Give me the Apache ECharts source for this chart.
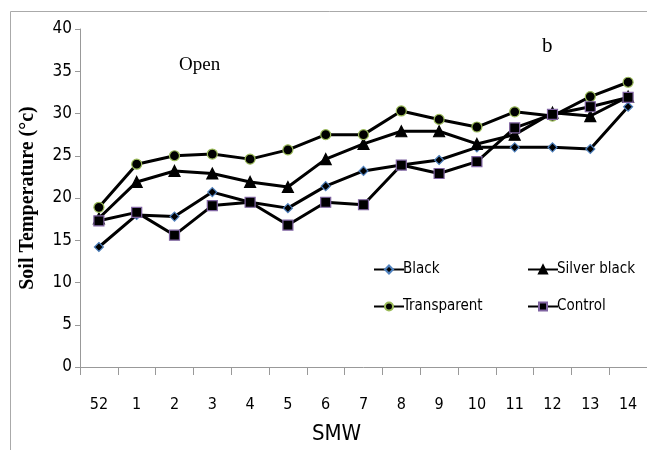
<!DOCTYPE html>
<html>
<head>
<meta charset="utf-8">
<script src="https://cdn.jsdelivr.net/npm/echarts@6/dist/echarts.min.js"></script>
<style>
  html, body { margin: 0; padding: 0; background: #fff; }
  #chart { width: 647px; height: 450px; }
</style>
</head>
<body>
<div id="chart"></div>
<script>
// semanas (SMW)
const weeks = ['52', '1', '2', '3', '4', '5', '6', '7', '8', '9', '10', '11', '12', '13', '14'];

const black       = [14.2, 18.0, 17.8, 20.7, 19.5, 18.8, 21.4, 23.2, 23.9, 24.5, 26.0, 26.0, 26.0, 25.8, 30.8];
const silverBlack = [17.6, 21.9, 23.2, 22.9, 21.9, 21.3, 24.6, 26.4, 27.9, 27.9, 26.4, 27.5, 30.1, 29.7, 32.0];
const transparent = [18.9, 24.0, 25.0, 25.2, 24.6, 25.7, 27.5, 27.5, 30.3, 29.3, 28.4, 30.2, 29.7, 32.0, 33.7];
const control     = [17.3, 18.3, 15.6, 19.1, 19.5, 16.8, 19.5, 19.2, 23.9, 22.9, 24.3, 28.3, 29.9, 30.8, 31.9];

const narrow = '"DejaVu Sans Condensed", "Liberation Sans Narrow", sans-serif';

const chart = echarts.init(document.getElementById('chart'));

// cada série: linha preta grossa, marcador com borda colorida
const mkSeries = (name, data, symbol, size, border) => ({
  name: name,
  type: 'line',
  data: data,
  symbol: symbol,
  symbolSize: size,
  showAllSymbol: true,
  lineStyle: { color: '#000', width: 3 },
  itemStyle: { color: '#000', borderColor: border, borderWidth: 1.2 },
  emphasis: { disabled: true },
  animation: false
});

// uma legenda por item, posicionada como no original
const mkLegend = (name, left, top) => ({
  data: [name],
  left: left, top: top,
  itemWidth: 30, itemHeight: 10, itemGap: 0,
  textStyle: { fontFamily: narrow, fontSize: 15, color: '#000', padding: [0, 0, 0, -6] }
});

chart.setOption({
  backgroundColor: '#fff',
  animation: false,
  grid: { left: 80, right: -10, top: 29, bottom: 81 },
  legend: [
    mkLegend('Black', 368, 257),
    mkLegend('Silver black', 522, 257),
    mkLegend('Transparent', 368, 294),
    mkLegend('Control', 522, 294)
  ],
  xAxis: {
    type: 'category',
    data: weeks,
    boundaryGap: true,
    axisLine: { lineStyle: { color: '#999', width: 1 } },
    axisTick: { show: true, length: 8, lineStyle: { color: '#999' } },
    axisLabel: { color: '#000', fontFamily: narrow, fontSize: 16, margin: 30 },
    name: 'SMW',
    nameLocation: 'middle',
    nameGap: 56,
    nameTextStyle: { fontFamily: narrow, fontSize: 22, color: '#000', padding: [0, 0, 0, -54] }
  },
  yAxis: {
    type: 'value',
    min: 0, max: 40, interval: 5,
    splitLine: { show: false },
    axisLine: { show: true, lineStyle: { color: '#999', width: 1 } },
    axisTick: { show: true, length: 5, lineStyle: { color: '#999' } },
    axisLabel: { color: '#000', fontFamily: narrow, fontSize: 17, margin: 8 },
    name: 'Soil Temperature (°c)',
    nameLocation: 'middle',
    nameGap: 42,
    nameTextStyle: { fontFamily: '"Liberation Serif", "DejaVu Serif", serif', fontWeight: 'bold', fontSize: 20, color: '#000' }
  },
  graphic: [
    {
      type: 'rect', silent: true, z: -1,
      shape: { x: 10.5, y: 11.5, width: 700, height: 500 },
      style: { fill: 'none', stroke: '#aaa', lineWidth: 1 }
    },
    {
      type: 'text', left: 179, top: 56,
      style: { text: 'Open', font: '19px "Liberation Serif", serif', fill: '#000' }
    },
    {
      type: 'text', left: 542, top: 36,
      style: { text: 'b', font: '21px "Liberation Serif", serif', fill: '#000' }
    }
  ],
  series: [
    mkSeries('Black', black, 'diamond', 9, '#4f81bd'),
    mkSeries('Silver black', silverBlack, 'triangle', 11, '#000'),
    mkSeries('Transparent', transparent, 'circle', 10, '#9bbb59'),
    mkSeries('Control', control, 'rect', 10, '#8064a2')
  ]
});
</script>
</body>
</html>
